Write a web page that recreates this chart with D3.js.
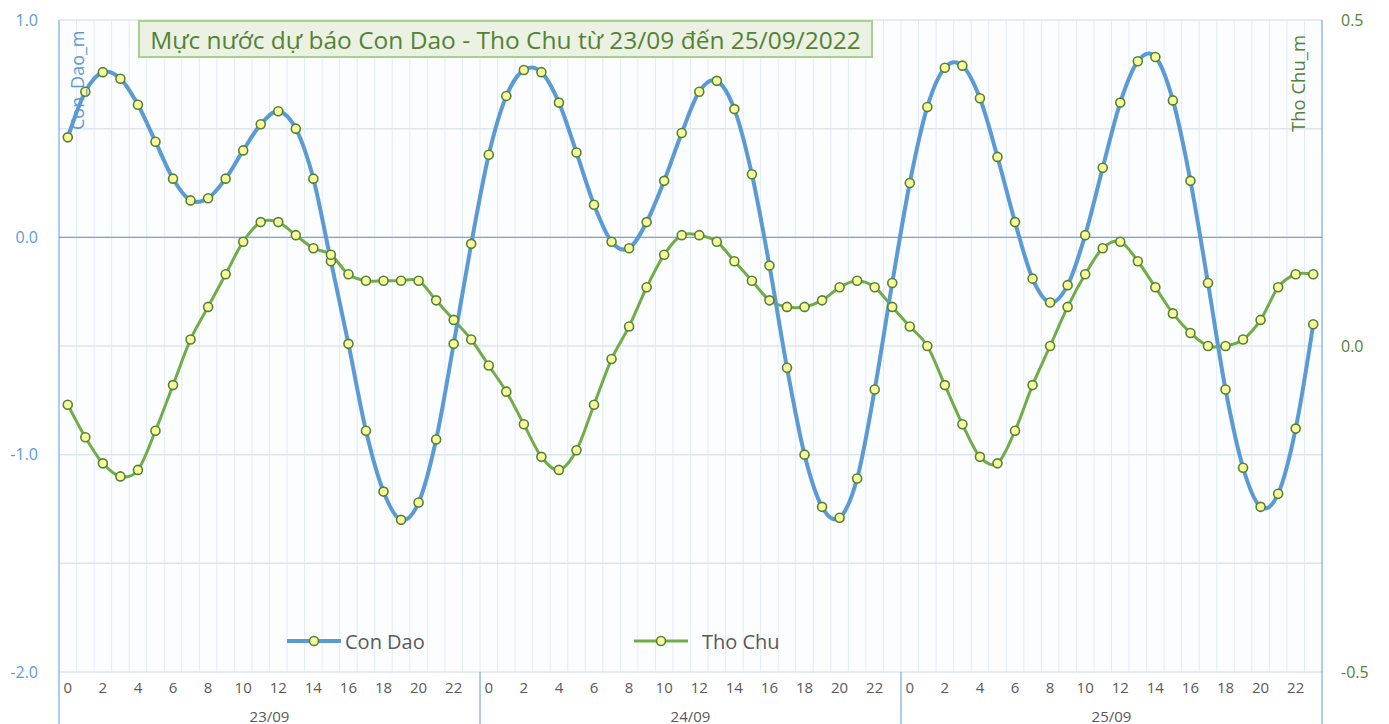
<!DOCTYPE html>
<html>
<head>
<meta charset="utf-8">
<script src="https://cdn.jsdelivr.net/npm/d3@7"></script>
<style>
body{margin:0;background:#fff;}
svg{display:block;}
text{font-family:"Open Sans",Lato,sans-serif;}
</style>
</head>
<body>
<svg id="chart" width="1389" height="724"></svg>
<script>
var days=["23/09","24/09","25/09"]
var hours=d3.range(24)
var conDao=[0.46,0.67,0.76,0.73,0.61,0.44,0.27,0.17,0.18,0.27,0.40,0.52,0.58,0.50,0.27,-0.11,-0.49,-0.89,-1.17,-1.30,-1.22,-0.93,-0.49,-0.03,
0.38,0.65,0.77,0.76,0.62,0.39,0.15,-0.02,-0.05,0.07,0.26,0.48,0.67,0.72,0.59,0.29,-0.13,-0.60,-1.00,-1.24,-1.29,-1.11,-0.70,-0.21,
0.25,0.60,0.78,0.79,0.64,0.37,0.07,-0.19,-0.30,-0.22,0.01,0.32,0.62,0.81,0.83,0.63,0.26,-0.21,-0.70,-1.06,-1.24,-1.18,-0.88,-0.40]
var thoChu=[-0.09,-0.14,-0.18,-0.20,-0.19,-0.13,-0.06,0.01,0.06,0.11,0.16,0.19,0.19,0.17,0.15,0.14,0.11,0.10,0.10,0.10,0.10,0.07,0.04,0.01,
-0.03,-0.07,-0.12,-0.17,-0.19,-0.16,-0.09,-0.02,0.03,0.09,0.14,0.17,0.17,0.16,0.13,0.10,0.07,0.06,0.06,0.07,0.09,0.10,0.09,0.06,
0.03,0.00,-0.06,-0.12,-0.17,-0.18,-0.13,-0.06,0.00,0.06,0.11,0.15,0.16,0.13,0.09,0.05,0.02,0.00,0.00,0.01,0.04,0.09,0.11,0.11]
var leftTicks=[-2,-1,0,1]
var rightTicks=[-0.5,0,0.5]
var title="Mực nước dự báo Con Dao - Tho Chu từ 23/09 đến 25/09/2022"

var plotLeft=59,plotRight=1322,plotTop=20,plotBottom=672
var blue="#5b9bd5",green="#70ad47",dark="#548235"

var svg=d3.select("#chart")
var idx=d3.range(days.length*hours.length)

var x=d3.scaleBand().domain(idx).range([plotLeft,plotRight]).padding(0)
var cx=i=>x(i)+x.bandwidth()/2
var yL=d3.scaleLinear().domain([-2,1]).range([plotBottom,plotTop])
var yR=d3.scaleLinear().domain([-0.5,0.5]).range([plotBottom,plotTop])

// plot background
svg.append("rect").attr("x",plotLeft).attr("y",plotTop).attr("width",plotRight-plotLeft).attr("height",plotBottom-plotTop).attr("fill","#fcfdff")

// vertical gridlines
svg.append("g").selectAll("line").data(idx.slice(1))
.enter().append("line")
.attr("x1",d=>x(d)).attr("x2",d=>x(d))
.attr("y1",plotTop).attr("y2",plotBottom)
.attr("stroke","#e4ebf6").attr("stroke-width",1)

// horizontal gridlines
svg.append("g").selectAll("line").data(d3.range(-2,1.01,0.5))
.enter().append("line")
.attr("x1",plotLeft).attr("x2",plotRight)
.attr("y1",d=>yL(d)).attr("y2",d=>yL(d))
.attr("stroke","#dde5f1").attr("stroke-width",1.5)

// zero axis line
svg.append("line").attr("x1",plotLeft).attr("x2",plotRight).attr("y1",yL(0)).attr("y2",yL(0))
.attr("stroke",blue).attr("stroke-width",1)

// left / right axis lines
svg.append("line").attr("x1",plotLeft).attr("x2",plotLeft).attr("y1",plotTop).attr("y2",724).attr("stroke",blue)
svg.append("line").attr("x1",plotRight).attr("x2",plotRight).attr("y1",plotTop).attr("y2",724).attr("stroke",blue)

// day separators below plot
svg.append("g").selectAll("line").data([24,48])
.enter().append("line")
.attr("x1",d=>x(d)).attr("x2",d=>x(d))
.attr("y1",plotBottom).attr("y2",724).attr("stroke",blue)

// left axis
var yAxisL=d3.axisLeft(yL).tickValues(leftTicks).tickFormat(d=>d.toFixed(1)).tickSize(0).tickPadding(21)
var gL=svg.append("g").attr("transform","translate("+plotLeft+",0)").call(yAxisL)
gL.select(".domain").remove()
gL.selectAll("text").attr("fill",blue).style("font-size","16px")

// right axis
var yAxisR=d3.axisRight(yR).tickValues(rightTicks).tickFormat(d=>d.toFixed(1)).tickSize(0).tickPadding(19)
var gR=svg.append("g").attr("transform","translate("+plotRight+",0)").call(yAxisR)
gR.select(".domain").remove()
gR.selectAll("text").attr("fill",dark).style("font-size","16px")

// x axis hour labels
var xAxis=d3.axisBottom(x).tickValues(idx.filter(i=>i%2===0)).tickFormat(i=>hours[i%24]).tickSize(0).tickPadding(10)
var gX=svg.append("g").attr("transform","translate(0,"+plotBottom+")").call(xAxis)
gX.select(".domain").remove()
gX.selectAll("text").attr("fill","#595959").style("font-size","15px")

// day labels
svg.append("g").selectAll("text").data(days)
.enter().append("text")
.attr("x",(d,i)=>(x(i*24)+x(i*24+23)+x.bandwidth())/2)
.attr("y",722)
.attr("text-anchor","middle")
.attr("fill","#595959").style("font-size","15px")
.text(d=>d)

// lines
var line=(scale)=>d3.line().x((d,i)=>cx(i)).y(d=>scale(d)).curve(d3.curveCardinal.tension(0))

svg.append("path").datum(thoChu).attr("d",line(yR))
.attr("fill","none").attr("stroke",green).attr("stroke-width",3)
svg.append("path").datum(conDao).attr("d",line(yL))
.attr("fill","none").attr("stroke",blue).attr("stroke-width",4)

function markers(data,scale){
	svg.append("g").selectAll("circle").data(data)
	.enter().append("circle")
	.attr("cx",(d,i)=>cx(i)).attr("cy",d=>scale(d)).attr("r",4.5)
	.attr("fill","#fbfb9b").attr("stroke",dark).attr("stroke-width",1.6)
}
markers(conDao,yL)
markers(thoChu,yR)

// axis titles
svg.append("text").attr("transform","translate(84,130) rotate(-90)")
.attr("fill",blue).style("font-size","18px").text("Con_Dao_m")
svg.append("text").attr("transform","translate(1305,132) rotate(-90)")
.attr("fill",dark).style("font-size","18.5px").text("Tho Chu_m")

// title box
var tg=svg.append("g")
tg.append("rect").attr("x",139).attr("y",21).attr("width",733).attr("height",36)
.attr("fill","#ebf2e4").attr("stroke","#a9d18e").attr("stroke-width",2)
tg.append("text").attr("x",505.5).attr("y",48.5).attr("text-anchor","middle")
.attr("fill",dark).style("font-size","24.5px")
.text(title)

// legend
var legend=[{name:"Con Dao",color:blue,w:4,x:287,tx:345},{name:"Tho Chu",color:green,w:3,x:634,tx:702}]
var lg=svg.append("g").selectAll("g").data(legend).enter().append("g")
lg.append("line").attr("x1",d=>d.x).attr("x2",d=>d.x+54).attr("y1",641).attr("y2",641)
.attr("stroke",d=>d.color).attr("stroke-width",d=>d.w)
lg.append("circle").attr("cx",d=>d.x+27).attr("cy",641).attr("r",4.5)
.attr("fill","#fbfb9b").attr("stroke",dark).attr("stroke-width",1.6)
lg.append("text").attr("x",d=>d.tx).attr("y",649).attr("fill","#595959").style("font-size","20px").text(d=>d.name)
</script>
</body>
</html>
